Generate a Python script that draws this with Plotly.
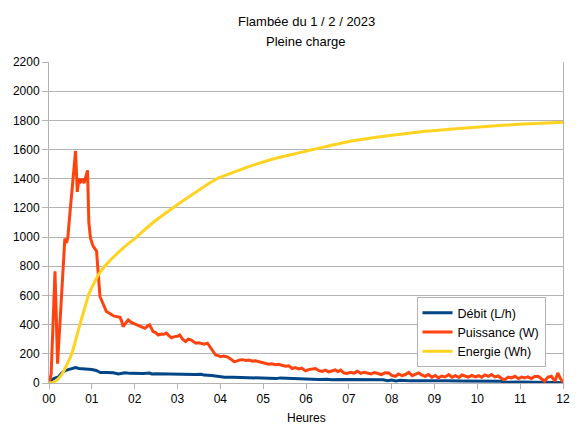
import plotly.graph_objects as go

# ---- data (hours, values) ----
heures_labels = ["00", "01", "02", "03", "04", "05", "06", "07", "08", "09", "10", "11", "12"]

debit_t = [0, 0.08, 0.15, 0.22, 0.3, 0.38, 0.45, 0.55, 0.62, 0.7, 0.8, 0.92, 1.0, 1.1, 1.2,
           1.35, 1.5, 1.62, 1.68, 1.77, 1.9, 2.05, 2.2, 2.35, 2.4, 2.5, 2.7, 2.9, 3.0, 3.2,
           3.4, 3.56, 3.62, 3.8, 3.95, 4.1, 4.3, 4.6, 4.9, 5.2, 5.3, 5.4, 5.5, 5.7, 6.0,
           6.3, 6.5, 6.6, 6.9, 7.1, 7.3, 7.5, 7.8, 7.9, 8.0, 8.1, 8.2, 8.4, 8.7, 9.0, 9.3,
           9.6, 10.0, 10.3, 10.55, 10.6, 10.8, 11.0, 11.3, 11.6, 11.8, 12.0]
debit = [0, 25, 35, 42, 70, 85, 92, 98, 106, 100, 99, 97, 92, 86, 72,
         72, 70, 62, 64, 70, 66, 64, 65, 68, 62, 64, 62, 60, 58, 58,
         58, 60, 54, 52, 44, 40, 40, 38, 36, 35, 30, 35, 34, 27, 26,
         24, 26, 22, 24, 24, 22, 23, 22, 16, 20, 14, 18, 15, 16, 14, 15,
         13, 14, 14, 12, 5, 8, 6, 5, 6, 3, 2]

puissance_t = [0, 0.05, 0.14, 0.2, 0.26, 0.33, 0.37, 0.41, 0.44, 0.49, 0.53, 0.57, 0.62, 0.66,
               0.7, 0.74, 0.78, 0.82, 0.86, 0.9, 0.93, 0.97, 1.03, 1.11, 1.19, 1.27, 1.34, 1.4,
               1.46, 1.52, 1.58, 1.66, 1.7, 1.73, 1.79, 1.85, 1.92, 1.97, 2.03, 2.08, 2.15,
               2.24, 2.3, 2.35, 2.43, 2.49, 2.55, 2.62, 2.68, 2.74, 2.8, 2.86, 2.93, 3.0, 3.05,
               3.12, 3.19, 3.25, 3.31, 3.37, 3.43, 3.5, 3.56, 3.62, 3.7, 3.78, 3.84, 3.89, 3.95,
               4.01, 4.08, 4.17, 4.24, 4.32, 4.38, 4.44, 4.52, 4.6, 4.67, 4.75, 4.82, 4.9, 4.97,
               5.05, 5.13, 5.2, 5.28, 5.36, 5.45, 5.52, 5.6, 5.68, 5.75, 5.83, 5.9, 5.99, 6.06,
               6.14, 6.22, 6.3, 6.38, 6.45, 6.53, 6.6, 6.68, 6.75, 6.81, 6.88, 6.96, 7.04, 7.12,
               7.2, 7.28, 7.36, 7.44, 7.52, 7.6, 7.68, 7.76, 7.84, 7.93, 8.0, 8.09, 8.16, 8.24,
               8.32, 8.4, 8.48, 8.56, 8.63, 8.7, 8.78, 8.86, 8.94, 9.02, 9.09, 9.17, 9.25, 9.33,
               9.41, 9.49, 9.57, 9.64, 9.71, 9.79, 9.87, 9.95, 10.03, 10.1, 10.18, 10.26, 10.33,
               10.41, 10.49, 10.57, 10.64, 10.72, 10.8, 10.88, 10.96, 11.04, 11.1, 11.18, 11.26,
               11.34, 11.42, 11.5, 11.57, 11.65, 11.73, 11.81, 11.88, 11.94, 12.0]
puissance = [0, 60, 766, 133, 432, 846, 990, 960, 1000, 1168, 1300, 1420, 1590, 1310,
             1400, 1380, 1400, 1370, 1410, 1457, 1100, 990, 938, 904, 593, 536, 490, 480,
             467, 458, 455, 450, 420, 386, 410, 432, 415, 409, 400, 391, 388,
             375, 390, 398, 352, 345, 329, 335, 334, 342, 325, 310, 318, 320, 329,
             300, 284, 300, 296, 285, 273, 276, 271, 266, 273, 238, 215, 192, 188,
             180, 185, 178, 165, 146, 150, 157, 160, 155, 157, 150, 152, 146, 140,
             138, 129, 132, 125, 128, 122, 115, 118, 99, 105, 96, 102, 83, 92,
             95, 99, 85, 80, 88, 76, 82, 90, 78, 88, 70, 65, 74, 68,
             80, 66, 74, 70, 62, 72, 65, 58, 70, 69, 52, 46, 62, 50,
             58, 72, 50, 60, 69, 55, 46, 58, 40, 52, 35, 48, 42, 58,
             40, 50, 38, 55, 46, 40, 52, 42, 51, 40, 55, 45, 58,
             42, 48, 30, 23, 40, 35, 46, 30, 40, 35, 42, 30,
             45, 46, 25, 12, 40, 46, 12, 69, 30, 5]

energie_t = [0, 0.1, 0.2, 0.3, 0.4, 0.53, 0.62, 0.72, 0.82, 0.92, 1.05, 1.15, 1.27, 1.4,
             1.5, 1.75, 2.04, 2.45, 2.89, 3.4, 3.75, 3.92, 4.21, 4.6, 4.98, 5.36, 5.76, 6.46,
             7.09, 7.87, 8.65, 9.42, 10.2, 10.98, 11.75, 12.0]
energie = [0, 5, 25, 60, 115, 200, 290, 400, 500, 600, 685, 740, 790, 832,
           862, 930, 1000, 1105, 1200, 1302, 1370, 1400, 1433, 1476, 1513, 1545, 1572, 1620,
           1660, 1693, 1721, 1741, 1758, 1773, 1784, 1787]

FONT = "Liberation Sans, Arial, sans-serif"
GRID = "#b3b3b3"

fig = go.Figure()
fig.add_trace(go.Scatter(x=debit_t, y=debit, mode="lines", name="Débit (L/h)",
                         line=dict(color="#004586", width=3)))
fig.add_trace(go.Scatter(x=puissance_t, y=puissance, mode="lines", name="Puissance (W)",
                         line=dict(color="#ff420e", width=3)))
fig.add_trace(go.Scatter(x=energie_t, y=energie, mode="lines", name="Energie (Wh)",
                         line=dict(color="#ffd320", width=3, shape="spline", smoothing=0.6)))

fig.update_layout(
    width=582, height=437,
    margin=dict(l=49, r=17, t=62, b=54),
    paper_bgcolor="white", plot_bgcolor="white",
    font=dict(family=FONT, size=12, color="black"),
    showlegend=True,
    legend=dict(x=0.715, y=(383 - 297) / 321, xanchor="left", yanchor="top",
                bordercolor=GRID, borderwidth=1, bgcolor="white",
                font=dict(family=FONT, size=12.5, color="black"),
                tracegroupgap=0, itemwidth=30),
    annotations=[
        dict(text="Flambée du 1 / 2 / 2023", xref="paper", yref="paper",
             x=0.5, y=(383 - 22) / 321, xanchor="center", yanchor="middle",
             showarrow=False, font=dict(family=FONT, size=13, color="black")),
        dict(text="Pleine charge", xref="paper", yref="paper",
             x=0.5, y=(383 - 41) / 321, xanchor="center", yanchor="middle",
             showarrow=False, font=dict(family=FONT, size=13, color="black")),
        dict(text="Heures", xref="paper", yref="paper",
             x=0.5, y=(383 - 418) / 321, xanchor="center", yanchor="middle",
             showarrow=False, font=dict(family=FONT, size=12, color="black")),
    ],
)
fig.update_xaxes(range=[0, 12], tickmode="array", tickvals=list(range(13)),
                 ticktext=heures_labels, showgrid=False, zeroline=False,
                 showline=True, linecolor=GRID, linewidth=1,
                 ticks="outside", ticklen=5, tickcolor=GRID,
                 tickfont=dict(family=FONT, size=12, color="black"))
fig.update_yaxes(range=[0, 2200], dtick=200, tick0=0, showgrid=True, gridcolor=GRID,
                 gridwidth=1, zeroline=False, showline=True, linecolor=GRID, linewidth=1,
                 mirror=True, ticks="outside", ticklen=6, tickcolor=GRID,
                 tickfont=dict(family=FONT, size=12, color="black"))

fig.write_html("out.html")
